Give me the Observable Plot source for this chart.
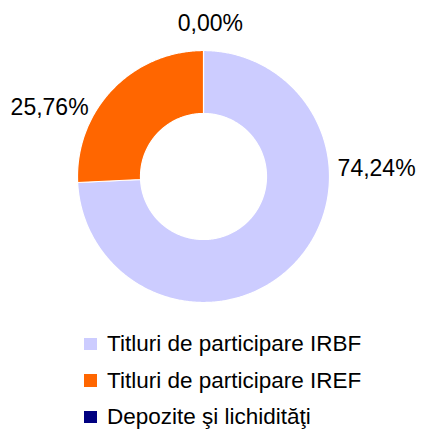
<!DOCTYPE html>
<html>
<head>
<meta charset="utf-8">
<script src="https://cdn.jsdelivr.net/npm/d3@7"></script>
<script src="https://cdn.jsdelivr.net/npm/@observablehq/plot@0.6"></script>
<style>
  html, body { margin: 0; padding: 0; background: #fff; overflow: hidden; }
  body { width: 421px; height: 429px; font-family: "Liberation Sans", Arial, sans-serif; }
  #chart svg { display: block; }
  .legend { margin-top: 6px; padding-left: 84px; }
  .row { height: 36.4px; display: flex; align-items: center; font-size: 22.5px; color: #000; white-space: nowrap; }
  .sw { width: 12.5px; height: 12.5px; margin-right: 10.5px; flex: none; }
</style>
</head>
<body>
<div id="chart"></div>
<script>
const categories = ["Titluri de participare IRBF", "Titluri de participare IREF", "Depozite şi lichidităţi"];
const values = [74.24, 25.76, 0.00];
const valueLabels = ["74,24%", "25,76%", "0,00%"];
const colors = ["#CCCCFF", "#FF6600", "#000080"];

// layout
const W = 421, H = 320, CX = 203, CY = 176, R = 126;
const innerRatio = 63 / 126;
const labelAngleDeg = [87.5, 294, 2.6];
const labelRadius = [1.375, 1.337, 1.212];

const total = d3.sum(values);
const polys = [];
let acc = 0;
values.forEach((v, i) => {
  const a0 = acc / total * 2 * Math.PI;
  acc += v;
  const a1 = acc / total * 2 * Math.PI;
  if (v <= 0) return;
  const n = Math.max(2, Math.ceil((a1 - a0) / (Math.PI / 360)));
  const pts = [];
  for (let k = 0; k <= n; k++) {
    const a = a0 + (a1 - a0) * k / n;
    pts.push({name: categories[i], x: Math.sin(a), y: Math.cos(a)});
  }
  for (let k = n; k >= 0; k--) {
    const a = a0 + (a1 - a0) * k / n;
    pts.push({name: categories[i], x: innerRatio * Math.sin(a), y: innerRatio * Math.cos(a)});
  }
  pts.push({...pts[0]});
  polys.push(...pts);
});

const labelData = values.map((v, i) => {
  const a = labelAngleDeg[i] * Math.PI / 180;
  return {label: valueLabels[i], x: labelRadius[i] * Math.sin(a), y: labelRadius[i] * Math.cos(a)};
});

const plot = Plot.plot({
  width: W,
  height: H,
  margin: 0,
  style: {fontFamily: '"Liberation Sans", Arial, sans-serif', background: "#fff"},
  x: {domain: [-CX / R, (W - CX) / R], range: [0, W], axis: null},
  y: {domain: [-(H - CY) / R, CY / R], range: [H, 0], axis: null},
  color: {domain: categories, range: colors},
  marks: [
    Plot.line(polys, {x: "x", y: "y", z: "name", fill: "name", stroke: "#fff", strokeWidth: 1.2, curve: "linear"}),
    Plot.text(labelData, {x: "x", y: "y", text: "label", fontSize: 23, fill: "#000", textAnchor: "middle", lineAnchor: "middle"})
  ]
});
document.getElementById("chart").appendChild(plot);

const legend = document.createElement("div");
legend.className = "legend";
categories.forEach((c, i) => {
  const row = document.createElement("div");
  row.className = "row";
  const sw = document.createElement("span");
  sw.className = "sw";
  sw.style.background = colors[i];
  const t = document.createElement("span");
  t.textContent = c;
  row.appendChild(sw);
  row.appendChild(t);
  legend.appendChild(row);
});
document.body.appendChild(legend);
</script>
</body>
</html>
